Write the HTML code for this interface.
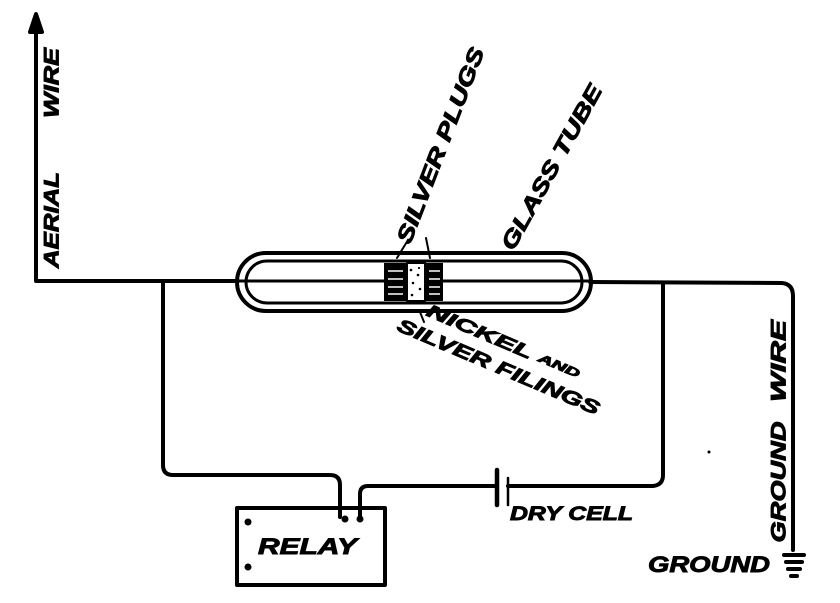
<!DOCTYPE html>
<html><head><meta charset="utf-8"><style>
html,body{margin:0;padding:0;background:#fff;}
svg{display:block;}
text{font-family:"Liberation Sans",sans-serif;font-weight:bold;font-style:italic;fill:#000;stroke:#000;stroke-width:0.9;}
</style></head><body>
<svg width="840" height="603" viewBox="0 0 840 603" xmlns="http://www.w3.org/2000/svg">
<g fill="none" stroke="#000" stroke-width="4" stroke-linecap="round" stroke-linejoin="round">
<path d="M36 20 L36 281 L238 281"/>
<path d="M30 32 L36 14 L42 32 Z" fill="#000"/>
<path d="M590 282 L782 283 Q793 284 793 296 L793 550"/>
<path d="M784 555 L804 555 M786 562 L802 562 M788 569 L800 569 M791 576 L797 576"/>
<rect x="237" y="253" width="354" height="58" rx="29" ry="29"/>
<rect x="246" y="261" width="336" height="42" rx="21" ry="21" stroke-width="3"/>
<path d="M238 281 L590 281" stroke-width="3"/>
<path d="M163 281 L163 465 Q163 475 173 475 L330 475 Q340 475 340 485 L340 517"/>
<path d="M663 283 L663 475 Q663 485 653 486 L508 486"/>
<path d="M497 486 L368 486 Q360 486 360 494 L360 517"/>
<path d="M497 470 L497 505" stroke-width="4.5"/>
<path d="M508 478 L508 505" stroke-width="2.5"/>
<rect x="237" y="508" width="148" height="77" stroke-width="4"/>
<path d="M397 258 L408 240 M430 258 L426 238 M420 312 L424 322" stroke-width="2"/>
</g>
<rect x="384" y="263" width="23" height="38" fill="#000"/>
<rect x="407" y="263" width="18" height="38" fill="#fff" stroke="#000" stroke-width="2"/>
<rect x="425" y="263" width="18" height="38" fill="#000"/>
<g stroke="#fff" stroke-width="1.5">
<path d="M388 271 L403 271 M388 279 L403 279 M388 287 L403 287 M388 294 L403 294 M429 271 L440 271 M429 279 L440 279 M429 287 L440 287 M429 294 L440 294"/>
</g>
<g fill="#000">
<circle cx="411" cy="270" r="1.3"/><circle cx="418" cy="275" r="1.3"/><circle cx="413" cy="283" r="1.3"/><circle cx="420" cy="289" r="1.3"/><circle cx="412" cy="295" r="1.3"/><circle cx="419" cy="268" r="1.1"/>
<circle cx="345" cy="519" r="3.5"/><circle cx="360" cy="519" r="3.5"/>
<circle cx="248" cy="522" r="3.5"/><circle cx="248" cy="567" r="3.5"/>
<circle cx="709" cy="452" r="1.5"/>
</g>
<text font-size="21" text-anchor="middle" dominant-baseline="middle" transform="translate(53,220) rotate(-90)" textLength="96" lengthAdjust="spacingAndGlyphs">AERIAL</text>
<text font-size="21" text-anchor="middle" dominant-baseline="middle" transform="translate(53,83) rotate(-90)" textLength="70" lengthAdjust="spacingAndGlyphs">WIRE</text>
<text font-size="21" text-anchor="middle" dominant-baseline="middle" transform="translate(780,482) rotate(-90)" textLength="121" lengthAdjust="spacingAndGlyphs">GROUND</text>
<text font-size="21" text-anchor="middle" dominant-baseline="middle" transform="translate(780,361) rotate(-90)" textLength="82" lengthAdjust="spacingAndGlyphs">WIRE</text>
<text font-size="22" x="648" y="572" textLength="122" lengthAdjust="spacingAndGlyphs">GROUND</text>
<text font-size="19" x="510" y="520" textLength="123" lengthAdjust="spacingAndGlyphs">DRY CELL</text>
<text font-size="22" x="258" y="554" textLength="99" lengthAdjust="spacingAndGlyphs">RELAY</text>
<text font-size="22" text-anchor="middle" dominant-baseline="middle" transform="translate(442,146) rotate(-69)" textLength="208" lengthAdjust="spacingAndGlyphs">SILVER PLUGS</text>
<text font-size="22" text-anchor="middle" dominant-baseline="middle" transform="translate(553,168) rotate(-61)" textLength="185" lengthAdjust="spacingAndGlyphs">GLASS TUBE</text>
<text font-size="18" text-anchor="middle" dominant-baseline="middle" transform="translate(503,343) rotate(23)" textLength="165" lengthAdjust="spacingAndGlyphs">NICKEL <tspan font-size="12">AND</tspan></text>
<text font-size="19" text-anchor="middle" dominant-baseline="middle" transform="translate(498,368) rotate(23)" textLength="218" lengthAdjust="spacingAndGlyphs">SILVER FILINGS</text>
</svg>
</body></html>
